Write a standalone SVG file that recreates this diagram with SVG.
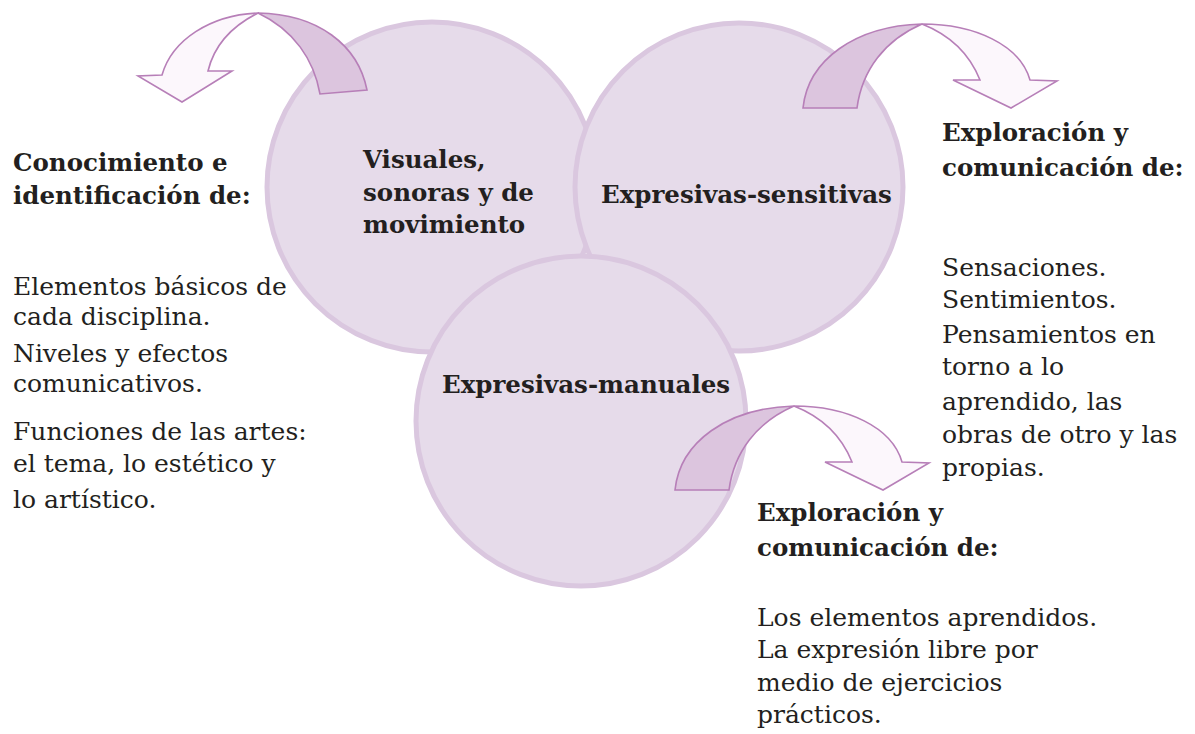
<svg xmlns="http://www.w3.org/2000/svg" width="1195" height="734" viewBox="0 0 1195 734">
<style>
.circ{fill:#e6dbea;stroke:#dac7df;stroke-width:5}
.dark{fill:#dcc5de;stroke:#b77fb8;stroke-width:1.6;stroke-linejoin:miter}
.light{fill:#fcf7fc;stroke:#b77fb8;stroke-width:1.6;stroke-linejoin:miter}
text{font-family:"DejaVu Serif","Liberation Serif",serif;fill:#231f20}
.b{font-weight:bold;font-size:24.5px}
.r{font-size:25px}
</style>
<rect width="1195" height="734" fill="#ffffff"/>
<g id="node-visuales-shape">
<circle class="circ" cx="432" cy="187" r="165"/>
</g>
<g id="node-sensitivas-shape">
<circle class="circ" cx="739" cy="187" r="164"/>
</g>
<g id="node-manuales-shape">
<circle class="circ" cx="581" cy="421" r="165"/>
</g>
<g id="connectors">
<g id="arrow-left">
<path class="dark" d="M258,13 C318,14 358,45 367,90 L320,94 C314,60 294,30 258,13 Z"/>
<path class="light" d="M258,13 C210,15 172,40 162,75 L138,76 L182,102 L232,71 L208,71 C214,46 232,26 258,13 Z"/>
</g>
<g id="arrow-right">
<path class="dark" d="M922,24 C855,26 808,60 803,108 L857,108 C862,70 885,40 922,24 Z"/>
<path class="light" d="M922,24 C975,24 1020,45 1030,80 L1057,81 L1011,108 L953,80 L980,80 C970,55 950,35 922,24 Z"/>
</g>
<g id="arrow-bottom" transform="translate(-128,382)">
<path class="dark" d="M922,24 C855,26 808,60 803,108 L857,108 C862,70 885,40 922,24 Z"/>
<path class="light" d="M922,24 C975,24 1020,45 1030,80 L1057,81 L1011,108 L953,80 L980,80 C970,55 950,35 922,24 Z"/>
</g>
</g>
<g id="node-visuales">
<text class="b" x="363" y="168">Visuales,</text>
<text class="b" x="363" y="201">sonoras y de</text>
<text class="b" x="363" y="233">movimiento</text>
</g>
<g id="node-sensitivas">
<text class="b" x="601" y="203">Expresivas-sensitivas</text>
</g>
<g id="node-manuales">
<text class="b" x="442" y="393">Expresivas-manuales</text>
</g>
<g id="text-left">
<text class="b" x="13" y="171">Conocimiento e</text>
<text class="b" x="13" y="204">identificación de:</text>
<text class="r" x="13" y="295">Elementos básicos de</text>
<text class="r" x="13" y="325">cada disciplina.</text>
<text class="r" x="13" y="362">Niveles y efectos</text>
<text class="r" x="13" y="392">comunicativos.</text>
<text class="r" x="13" y="440">Funciones de las artes:</text>
<text class="r" x="13" y="472">el tema, lo estético y</text>
<text class="r" x="13" y="508">lo artístico.</text>
</g>
<g id="text-right">
<text class="b" x="942" y="141">Exploración y</text>
<text class="b" x="942" y="176">comunicación de:</text>
<text class="r" x="942" y="276">Sensaciones.</text>
<text class="r" x="942" y="308">Sentimientos.</text>
<text class="r" x="942" y="343">Pensamientos en</text>
<text class="r" x="942" y="375">torno a lo</text>
<text class="r" x="942" y="410">aprendido, las</text>
<text class="r" x="942" y="443">obras de otro y las</text>
<text class="r" x="942" y="476">propias.</text>
</g>
<g id="text-bottom">
<text class="b" x="757" y="521">Exploración y</text>
<text class="b" x="757" y="556">comunicación de:</text>
<text class="r" x="757" y="626">Los elementos aprendidos.</text>
<text class="r" x="757" y="658">La expresión libre por</text>
<text class="r" x="757" y="691">medio de ejercicios</text>
<text class="r" x="757" y="723">prácticos.</text>
</g>
</svg>
